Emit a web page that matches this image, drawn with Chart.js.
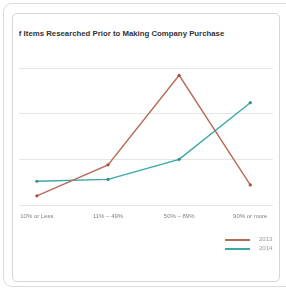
<!DOCTYPE html>
<html>
<head>
<meta charset="utf-8">
<script src="https://cdn.jsdelivr.net/npm/chart.js@4/dist/chart.umd.min.js"></script>
<style>
  html, body { margin: 0; padding: 0; background: #fff; width: 286px; height: 290px; overflow: hidden; }
  .outer { position: absolute; left: 3px; top: 3px; width: 300px; height: 284px; border: 1px solid #dcdcdc; border-radius: 9px; box-sizing: border-box; }
  .card { position: absolute; left: 12px; top: 13px; width: 268px; height: 269px; border: 1px solid #d6d6d6; border-radius: 5px; box-sizing: border-box; background: #fff; }
  .clip { position: absolute; left: 19px; top: 20px; width: 254px; height: 250px; overflow: hidden; }
  .title { position: absolute; left: -14px; top: 9px; white-space: nowrap; font-family: "Liberation Sans", Arial, sans-serif; font-weight: bold; font-size: 7.8px; color: #333; }
  .chartbox { position: absolute; left: -9px; top: 0px; width: 270px; height: 250px; }
  .legend { position: absolute; left: 206px; top: 215px; font-family: "Liberation Sans", Arial, sans-serif; font-size: 6px; color: #999; }
  .legend .item { position: relative; height: 9px; line-height: 9px; white-space: nowrap; padding-left: 34px; }
  .legend .ln { position: absolute; left: 0; top: 4px; width: 25px; height: 1.5px; }
</style>
</head>
<body>
<div class="outer"></div>
<div class="card"></div>
<div class="clip">
  <div class="title">% of Items Researched Prior to Making Company Purchase</div>
  <div class="chartbox"><canvas id="c" width="270" height="250"></canvas></div>
  <div class="legend" id="legend"></div>
</div>
<script>
const categories = ["10% or Less", "11% – 49%", "50% – 89%", "90% or more"];
const seriesNames = ["2013", "2014"];
const values2013 = [5, 22, 71, 11];
const values2014 = [13, 14, 25, 56];
const yTicks = [0, 25, 50, 75];

const colors = ["#b86a58", "#3aa8a6"];
const pointColors = ["#a8503f", "#2f8f8c"];

const data = {
  datasets: [
    { label: seriesNames[0], data: values2013.map((v, i) => ({ x: i, y: v })), borderColor: colors[0], backgroundColor: pointColors[0], pointBackgroundColor: pointColors[0], pointBorderColor: pointColors[0] },
    { label: seriesNames[1], data: values2014.map((v, i) => ({ x: i, y: v })), borderColor: colors[1], backgroundColor: pointColors[1], pointBackgroundColor: pointColors[1], pointBorderColor: pointColors[1] }
  ]
};

new Chart(document.getElementById("c"), {
  type: "line",
  data,
  options: {
    responsive: false,
    animation: false,
    devicePixelRatio: 1,
    layout: { padding: { top: 48, left: 0, right: 0, bottom: 0 } },
    elements: {
      line: { borderWidth: 1.4, tension: 0 },
      point: { radius: 1.6, borderWidth: 0, hoverRadius: 2 }
    },
    plugins: { legend: { display: false }, tooltip: { enabled: false }, title: { display: false } },
    scales: {
      x: {
        type: "linear",
        min: -0.35,
        max: 3.39,
        afterBuildTicks: s => { s.ticks = categories.map((c, i) => ({ value: i })); },
        afterFit: s => { s.height = 65; },
        grid: { display: false, drawTicks: false },
        border: { display: false },
        ticks: {
          autoSkip: false, maxRotation: 0, padding: 8,
          color: "#808080",
          font: { family: "Liberation Sans, Arial, sans-serif", size: 6 },
          callback: v => categories[v] ?? ""
        }
      },
      y: {
        min: yTicks[0],
        max: yTicks[yTicks.length - 1],
        afterBuildTicks: s => { s.ticks = yTicks.map(v => ({ value: v })); },
        afterFit: s => { s.width = 0; },
        grid: { color: "#e6e6e6", lineWidth: 1, drawTicks: false },
        border: { display: false },
        ticks: { display: false }
      }
    }
  }
});

const lg = document.getElementById("legend");
seriesNames.forEach((n, i) => {
  const d = document.createElement("div");
  d.className = "item";
  const ln = document.createElement("div");
  ln.className = "ln";
  ln.style.background = colors[i];
  d.appendChild(ln);
  d.appendChild(document.createTextNode(n));
  lg.appendChild(d);
});
</script>
</body>
</html>
